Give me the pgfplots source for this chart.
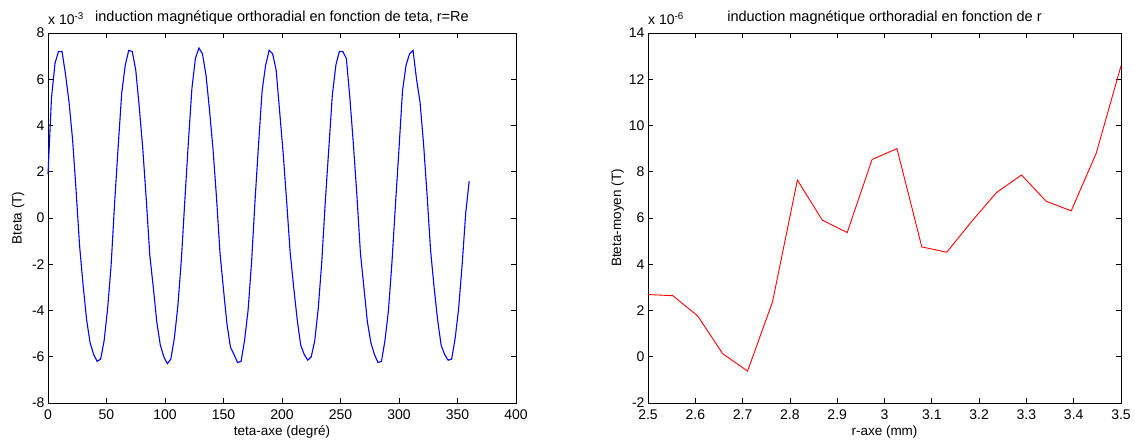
\documentclass[border=0pt]{standalone}
\usepackage{fontspec}
\setmainfont{Liberation Sans}
\usepackage{pgfplots}
\pgfplotsset{compat=1.18}
\begin{document}
\begin{tikzpicture}
\useasboundingbox (0,0) rectangle (1135bp,442bp);
\pgfplotsset{
  mstyle/.style={
    scale only axis,
    clip=false,
    /pgf/number format/assume math mode=true,
    axis line style={line width=0.8bp, black},
    every tick/.style={line width=0.7bp, black},
    tick align=inside,
    major tick length=5bp,
    ticklabel style={font=\fontsize{14bp}{16bp}\selectfont},
    xticklabel style={yshift=-3.5bp},
    label style={font=\fontsize{13.5bp}{15bp}\selectfont},
    title style={font=\fontsize{14.5bp}{16bp}\selectfont, at={(axis description cs:0.5,1.03)}, anchor=base, yshift=-6pt},
    xlabel style={at={(axis description cs:0.5,-0.087)}, anchor=base},
    /pgf/number format/.cd, fixed, use period, 1000 sep={},
  }
}
\pgfplotstableread{
x y
0 1.9
3 5.2
6 6.7
9 7.2
12 7.2
15 6.2
18 5.0
21 3.4
24 1.2
27 -1.2
30 -2.9
33 -4.4
36 -5.4
39 -5.9
42 -6.2
45 -6.1
48 -5.3
51 -3.9
54 -2.0
57 0.7
60 3.1
63 5.4
66 6.6
69 7.25
72 7.2
75 6.4
78 4.8
81 3.0
84 0.8
87 -1.6
90 -3.0
93 -4.5
96 -5.5
99 -6.0
102 -6.3
105 -6.1
108 -5.2
111 -3.8
114 -1.8
117 0.8
120 3.3
123 5.6
126 6.9
129 7.35
132 7.1
135 6.2
138 4.7
141 3.0
144 0.9
147 -1.5
150 -3.1
153 -4.6
156 -5.6
159 -5.9
162 -6.25
165 -6.2
168 -5.3
171 -4.0
174 -1.9
177 0.8
180 3.2
183 5.5
186 6.6
189 7.25
192 7.1
195 6.4
198 4.6
201 2.8
204 0.7
207 -1.5
210 -3.0
213 -4.4
216 -5.5
219 -5.9
222 -6.15
225 -6.0
228 -5.3
231 -3.9
234 -1.9
237 0.7
240 3.0
243 5.3
246 6.6
249 7.2
252 7.2
255 6.9
258 5.2
261 3.2
264 1.0
267 -1.5
270 -3.0
273 -4.5
276 -5.4
279 -5.9
282 -6.25
285 -6.2
288 -5.3
291 -4.0
294 -1.9
297 0.6
300 3.0
303 5.5
306 6.6
309 7.1
312 7.25
315 6.0
318 5.0
321 3.2
324 1.0
327 -1.4
330 -3.0
333 -4.4
336 -5.5
339 -5.9
342 -6.15
345 -6.1
348 -5.2
351 -3.9
354 -2.0
357 0.2
360 1.6
}\tetadata
\pgfplotstableread{
x y
2.5 2.69
2.5526 2.64
2.6053 1.76
2.6579 0.13
2.7105 -0.62
2.7632 2.37
2.8158 7.64
2.8684 5.91
2.9211 5.37
2.9737 8.53
3.0263 9.00
3.0789 4.75
3.1316 4.52
3.1842 5.85
3.2368 7.10
3.2895 7.86
3.3421 6.72
3.3947 6.31
3.4474 8.79
3.5 12.58
}\rdata
\begin{axis}[mstyle,
  at={(48bp,39bp)}, anchor=south west,
  width=468bp, height=370bp,
  xmin=0, xmax=400, ymin=-8, ymax=8,
  xtick={0,50,...,400}, ytick={-8,-6,...,8},
  title={induction magnétique orthoradial en fonction de teta, r=Re},
  xlabel={teta-axe (degré)},
  ylabel={Bteta (T)},
  ylabel style={at={(axis description cs:-0.064,0.5)}, anchor=center},
]
\addplot[blue, line width=1.1bp] table[x=x,y=y] {\tetadata};
\node[anchor=base west, font=\fontsize{14bp}{16bp}\selectfont, inner sep=0pt] at ([yshift=8bp]axis description cs:0.0,1.0) {x 10\textsuperscript{-3}};
\end{axis}
\begin{axis}[mstyle,
  at={(648bp,39bp)}, anchor=south west,
  width=473bp, height=370bp,
  xmin=2.5, xmax=3.5, ymin=-2, ymax=14,
  xtick={2.5,2.6,...,3.51}, ytick={-2,0,...,14},
  xticklabel={\pgfmathprintnumber[fixed,precision=1]{\tick}},
  title={induction magnétique orthoradial en fonction de r},
  xlabel={r-axe (mm)},
  ylabel={Bteta-moyen (T)},
  ylabel style={at={(axis description cs:-0.064,0.5)}, anchor=center},
]
\addplot[red, line width=0.9bp] table[x=x,y=y] {\rdata};
\node[anchor=base west, font=\fontsize{14bp}{16bp}\selectfont, inner sep=0pt] at ([yshift=8bp]axis description cs:0.0,1.0) {x 10\textsuperscript{-6}};
\end{axis}
\end{tikzpicture}
\end{document}
